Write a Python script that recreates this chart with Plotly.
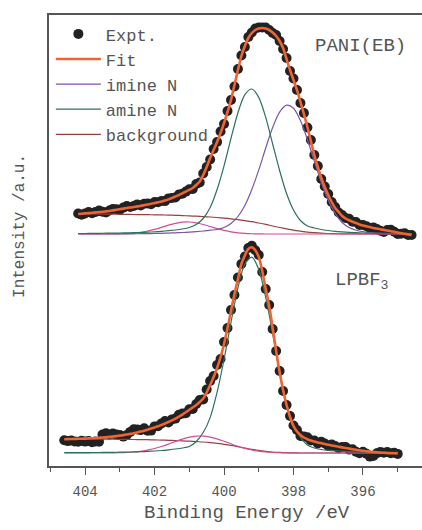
import plotly.graph_objects as go

# ---------------- data (binding energy in eV, intensity in a.u.) ----------------
E_up = [404.2, 404.1, 404.0, 403.9, 403.8, 403.7, 403.6, 403.5, 403.4, 403.3,
        403.2, 403.1, 403.0, 402.9, 402.8, 402.7, 402.6, 402.5, 402.4, 402.3,
        402.2, 402.1, 402.0, 401.9, 401.8, 401.7, 401.6, 401.5, 401.4, 401.3,
        401.2, 401.1, 401.0, 400.9, 400.8, 400.7, 400.6, 400.5, 400.4, 400.3,
        400.2, 400.1, 400.0, 399.9, 399.8, 399.7, 399.6, 399.5, 399.4, 399.3,
        399.2, 399.1, 399.0, 398.9, 398.8, 398.7, 398.6, 398.5, 398.4, 398.3,
        398.2, 398.1, 398.0, 397.9, 397.8, 397.7, 397.6, 397.5, 397.4, 397.3,
        397.2, 397.1, 397.0, 396.9, 396.8, 396.7, 396.6, 396.5, 396.4, 396.3,
        396.2, 396.1, 396.0, 395.9, 395.8, 395.7, 395.6, 395.5, 395.4, 395.3,
        395.2, 395.1, 395.0, 394.9, 394.8, 394.7, 394.6]

expt_up = [252.5, 251.3, 252.6, 253.9, 252.7, 254.1, 255.4, 254.2, 253.6, 255.5,
           257.1, 256.7, 256.3, 258.4, 260.0, 259.0, 260.0, 261.6, 260.6, 262.3,
           262.5, 261.7, 263.9, 263.7, 265.0, 264.9, 267.6, 268.0, 268.5, 271.5,
           272.2, 274.4, 276.7, 277.0, 282.0, 283.5, 292.5, 299.0, 306.5, 317.0,
           324.0, 334.5, 342.0, 355.0, 366.0, 379.5, 397.0, 410.5, 419.0, 429.0,
           433.5, 437.5, 438.5, 438.5, 438.5, 436.0, 433.0, 431.0, 425.0, 417.0,
           408.0, 395.0, 387.5, 376.0, 363.0, 353.0, 338.5, 326.0, 311.0, 300.0,
           287.0, 279.5, 272.0, 264.0, 259.0, 253.5, 251.0, 248.0, 247.2, 244.2,
           244.0, 241.0, 241.0, 239.7, 237.9, 238.6, 236.9, 235.2, 234.1, 236.0,
           236.3, 234.2, 232.0, 232.3, 232.7, 231.1, 231.0]

fit_up = [252.0, 252.3, 252.6, 252.9, 253.2, 253.6, 253.9, 254.2, 254.6, 255.0,
          255.6, 256.2, 256.8, 257.4, 258.0, 258.5, 259.0, 259.6, 260.1, 260.8,
          261.5, 262.2, 262.9, 263.7, 264.5, 265.4, 266.6, 268.0, 269.5, 271.0,
          272.7, 274.4, 276.2, 278.0, 281.0, 284.5, 291.0, 299.0, 308.0, 316.0,
          324.0, 333.0, 343.0, 354.0, 366.0, 381.0, 396.0, 410.0, 420.0, 428.0,
          433.0, 436.0, 437.5, 438.0, 437.5, 436.0, 433.5, 430.0, 425.0, 418.0,
          407.0, 396.0, 386.0, 376.0, 364.0, 352.0, 339.0, 325.0, 311.0, 299.0,
          288.0, 279.0, 271.0, 264.0, 258.0, 254.0, 250.0, 247.5, 245.7, 244.2,
          243.0, 241.5, 240.5, 239.7, 238.9, 238.1, 237.4, 236.7, 236.1, 235.5,
          234.8, 234.2, 233.5, 232.8, 232.2, 231.6, 231.0]

Ec_up = [404.2, 404.0, 403.8, 403.6, 403.4, 403.2, 403.0, 402.8, 402.6, 402.4,
         402.2, 402.0, 401.8, 401.6, 401.4, 401.2, 401.0, 400.8, 400.6, 400.4,
         400.2, 400.0, 399.8, 399.6, 399.4, 399.2, 399.0, 398.8, 398.6, 398.4,
         398.2, 398.0, 397.8, 397.6, 397.4, 397.2, 397.0, 396.8, 396.6, 396.4,
         396.2, 396.0, 395.8, 395.6, 395.4, 395.2, 395.0, 394.8, 394.6]

amine_up = [232.5, 232.5, 232.6, 232.7, 232.8, 232.9, 233.0, 233.1, 233.3, 233.5,
            233.8, 234.2, 234.7, 235.3, 236.0, 237.0, 238.5, 241.5, 247.5, 258.5,
            276.5, 300.2, 327.6, 353.3, 371.3, 377.0, 368.6, 348.6, 322.0, 295.5,
            272.5, 256.0, 245.5, 240.0, 238.0, 236.5, 235.5, 234.7, 234.1, 233.6,
            233.3, 233.0, 232.8, 232.6, 232.5, 232.4, 232.3, 232.2, 232.2]

imine_up = [232.0, 232.0, 232.0, 232.0, 232.0, 232.0, 232.1, 232.1, 232.2, 232.3,
            232.4, 232.5, 232.7, 232.9, 233.2, 233.5, 233.9, 234.4, 235.0, 235.8,
            236.5, 238.5, 242.5, 249.5, 260.5, 276.5, 296.1, 318.0, 338.5, 353.8,
            360.8, 357.8, 345.4, 326.5, 304.7, 283.7, 266.0, 252.6, 243.5, 238.5,
            235.8, 234.3, 233.5, 233.0, 232.7, 232.5, 232.4, 232.3, 232.2]

minor_up = [232.0, 232.0, 232.0, 232.0, 232.0, 232.0, 232.2, 232.45, 232.95, 233.7,
            235.0, 236.6, 238.6, 240.8, 242.6, 243.8, 244.0, 243.1, 241.5, 239.5,
            237.3, 235.6, 234.2, 233.2, 232.6, 232.25, 232.1, 232.0, 232.0, 232.0,
            232.0, 232.0, 232.0, 232.0, 232.0, 232.0, 232.0, 232.0, 232.0, 232.0,
            232.0, 232.0, 232.0, 232.0, 232.0, 232.0, 232.0, 232.0, 232.0]

bkg_up = [252.2, 252.2, 252.1, 252.0, 251.9, 251.8, 251.7, 251.6, 251.5, 251.4,
          251.3, 251.2, 251.1, 250.9, 250.7, 250.4, 250.1, 249.8, 249.4, 249.0,
          248.5, 247.9, 247.2, 246.4, 245.4, 244.3, 243.0, 241.6, 240.0, 238.5,
          237.1, 235.8, 234.8, 233.9, 233.3, 232.8, 232.5, 232.3, 232.2, 232.1,
          232.1, 232.0, 232.0, 232.0, 232.0, 232.0, 232.0, 232.0, 232.0]

E_lo = [404.6, 404.5, 404.4, 404.3, 404.2, 404.1, 404.0, 403.9, 403.8, 403.7,
        403.6, 403.5, 403.4, 403.3, 403.2, 403.1, 403.0, 402.9, 402.8, 402.7,
        402.6, 402.5, 402.4, 402.3, 402.2, 402.1, 402.0, 401.9, 401.8, 401.7,
        401.6, 401.5, 401.4, 401.3, 401.2, 401.1, 401.0, 400.9, 400.8, 400.7,
        400.6, 400.5, 400.4, 400.3, 400.2, 400.1, 400.0, 399.9, 399.8, 399.7,
        399.6, 399.5, 399.4, 399.3, 399.2, 399.1, 399.0, 398.9, 398.8, 398.7,
        398.6, 398.5, 398.4, 398.3, 398.2, 398.1, 398.0, 397.9, 397.8, 397.7,
        397.6, 397.5, 397.4, 397.3, 397.2, 397.1, 397.0, 396.9, 396.8, 396.7,
        396.6, 396.5, 396.4, 396.3, 396.2, 396.1, 396.0, 395.9, 395.8, 395.7,
        395.6, 395.5, 395.4, 395.3, 395.2, 395.1, 395.0]

expt_lo = [25.8, 24.9, 25.5, 24.6, 24.2, 25.3, 24.4, 25.1, 23.8, 24.5,
           24.2, 31.5, 32.8, 31.6, 32.5, 31.4, 30.9, 29.4, 31.0, 34.1,
           36.8, 36.6, 35.9, 37.8, 35.3, 35.4, 39.6, 39.8, 42.6, 45.0,
           43.5, 46.6, 47.4, 51.3, 52.4, 52.7, 56.7, 57.1, 62.0, 66.0,
           66.5, 76.5, 85.0, 90.0, 101.0, 107.0, 124.0, 138.0, 156.0, 171.0,
           188.5, 202.0, 209.5, 218.0, 220.2, 215.8, 211.0, 194.0, 177.0, 161.0,
           137.0, 115.0, 95.0, 75.0, 61.0, 50.0, 40.5, 36.0, 30.0, 29.5,
           28.8, 25.5, 25.5, 22.6, 24.3, 22.5, 20.3, 21.6, 19.9, 17.7,
           19.1, 19.0, 16.4, 16.8, 14.2, 12.7, 14.2, 12.3, 9.4, 10.0,
           12.7, 13.9, 13.2, 14.0, 12.8, 13.2, 12.1]

fit_lo = [26.8, 26.9, 27.0, 27.1, 27.2, 27.3, 27.4, 27.6, 27.8, 28.0,
          28.2, 28.5, 28.8, 29.1, 29.5, 29.9, 30.4, 30.9, 31.5, 32.1,
          32.8, 33.6, 34.4, 35.3, 36.3, 37.4, 38.6, 39.8, 41.1, 42.5,
          44.0, 45.6, 47.4, 49.3, 51.4, 53.7, 56.2, 58.6, 61.0, 64.0,
          67.5, 73.5, 81.0, 89.0, 98.0, 109.0, 122.0, 138.0, 155.0, 172.0,
          187.0, 202.0, 210.5, 217.0, 218.7, 215.8, 209.0, 195.0, 177.0, 160.0,
          138.0, 115.0, 94.0, 76.0, 61.0, 49.0, 40.0, 34.5, 31.0, 28.5,
          26.8, 25.5, 24.5, 23.6, 22.8, 22.0, 21.3, 20.6, 19.9, 19.2,
          18.6, 18.0, 17.4, 16.8, 16.2, 15.7, 15.2, 14.8, 14.4, 14.0,
          13.7, 13.4, 13.2, 13.0, 12.8, 12.7, 12.6]

Ec_lo = [404.6, 404.4, 404.2, 404.0, 403.8, 403.6, 403.4, 403.2, 403.0, 402.8,
         402.6, 402.4, 402.2, 402.0, 401.8, 401.6, 401.4, 401.2, 401.0, 400.8,
         400.6, 400.4, 400.2, 400.0, 399.8, 399.6, 399.4, 399.2, 399.0, 398.8,
         398.6, 398.4, 398.2, 398.0, 397.8, 397.6, 397.4, 397.2, 397.0, 396.8,
         396.6, 396.4, 396.2, 396.0, 395.8, 395.6, 395.4, 395.2, 395.0]

amine_lo = [13.3, 13.3, 13.4, 13.4, 13.5, 13.5, 13.6, 13.7, 13.8, 13.9,
            14.1, 14.3, 14.6, 15.0, 15.5, 16.2, 17.0, 18.0, 19.5, 24.5,
            33.5, 48.4, 73.8, 106.5, 143.7, 178.2, 202.0, 208.8, 196.5, 168.6,
            132.5, 93.5, 62.0, 40.5, 28.8, 21.0, 18.0, 16.5, 15.7, 15.2,
            14.8, 14.5, 14.2, 14.0, 13.9, 13.8, 13.7, 13.6, 13.6]

minor_lo = [13.0, 13.0, 13.0, 13.0, 13.0, 13.05, 13.1, 13.15, 13.25, 13.5,
            14.0, 14.7, 15.9, 17.5, 19.5, 21.9, 24.5, 26.9, 28.8, 29.8,
            29.9, 28.9, 27.1, 24.7, 22.2, 19.7, 17.6, 16.0, 14.8, 14.0,
            13.5, 13.25, 13.1, 13.05, 13.0, 13.0, 13.0, 13.0, 13.0, 13.0,
            13.0, 13.0, 13.0, 13.0, 13.0, 13.0, 13.0, 13.0, 13.0]

bkg_lo = [27.0, 27.0, 27.0, 27.0, 27.0, 26.9, 26.9, 26.8, 26.7, 26.6,
          26.5, 26.4, 26.3, 26.1, 25.9, 25.7, 25.4, 25.1, 24.8, 24.4,
          24.0, 23.4, 22.6, 21.7, 20.6, 19.3, 18.0, 16.7, 15.6, 14.7,
          14.0, 13.6, 13.3, 13.1, 13.0, 13.0, 13.0, 13.0, 13.0, 13.0,
          13.0, 13.0, 13.0, 13.0, 13.0, 13.0, 13.0, 13.0, 13.0]

x_ticks = [404, 402, 400, 398, 396]
labels = {"expt": "Expt.", "fit": "Fit", "imine": "imine N", "amine": "amine N",
          "bkg": "background", "minor": "N+"}

# ---------------- styling ----------------
FONT = "Liberation Mono, Courier New, monospace"
GREY = "#555555"
DOT = "#222222"
C_FIT = "#ef6432"
C_IMINE = "#7d55a6"
C_AMINE = "#2c7256"
C_BKG = "#9c3f40"
C_MINOR = "#d44d93"

fig = go.Figure()


def points(x, y, show):
    fig.add_trace(go.Scatter(x=x, y=y, mode="markers", name=labels["expt"],
                             showlegend=show, legendrank=1,
                             marker=dict(size=10, color=DOT)))


def curve(x, y, color, key, show, rank, width=1.2):
    fig.add_trace(go.Scatter(x=x, y=y, mode="lines", name=labels[key],
                             showlegend=show, legendrank=rank,
                             line=dict(color=color, width=width, shape="spline", smoothing=0.8)))


# experimental points
points(E_up, expt_up, True)
points(E_lo, expt_lo, False)
# upper spectrum components
curve(Ec_up, bkg_up, C_BKG, "bkg", True, 5)
curve(Ec_up, minor_up, C_MINOR, "minor", False, 6)
curve(Ec_up, imine_up, C_IMINE, "imine", True, 3)
curve(Ec_up, amine_up, C_AMINE, "amine", True, 4)
# lower spectrum components
curve(Ec_lo, bkg_lo, C_BKG, "bkg", False, 5)
curve(Ec_lo, minor_lo, C_MINOR, "minor", False, 6)
curve(Ec_lo, amine_lo, C_AMINE, "amine", False, 4)
# fits
curve(E_up, fit_up, C_FIT, "fit", True, 2, width=2.6)
curve(E_lo, fit_lo, C_FIT, "fit", False, 2, width=2.6)

fig.update_layout(
    width=422, height=530,
    margin=dict(l=49, r=0, t=15, b=64),
    paper_bgcolor="white", plot_bgcolor="white",
    font=dict(family=FONT, color=GREY),
    showlegend=True,
    legend=dict(x=0.005, y=0.997, xanchor="left", yanchor="top", traceorder="normal",
                bgcolor="rgba(0,0,0,0)", font=dict(size=17, color=GREY, family=FONT),
                itemwidth=45),
    xaxis=dict(range=[405.04, 394.30], showline=True, linecolor=GREY, linewidth=1.5, mirror=True,
               ticks="outside", ticklen=7, tickwidth=1.2, tickcolor=GREY,
               tickvals=x_ticks, tickfont=dict(size=14, color=GREY, family=FONT),
               ticklabelstandoff=4,
               minor=dict(dtick=1, tick0=0, ticks="outside", ticklen=4, tickwidth=1.2,
                          tickcolor=GREY, showgrid=False),
               showgrid=False, zeroline=False),
    yaxis=dict(range=[0, 451], showline=True, linecolor=GREY, linewidth=1.5,
               showticklabels=False, ticks="", showgrid=False, zeroline=False),
    annotations=[
        dict(text="PANI(EB)", x=0.836, y=0.931, xref="paper", yref="paper", showarrow=False,
             xanchor="center", yanchor="middle", font=dict(size=19, color=GREY, family=FONT)),
        dict(text="LPBF<sub>3</sub>", x=0.84, y=0.41, xref="paper", yref="paper", showarrow=False,
             xanchor="center", yanchor="middle", font=dict(size=19, color=GREY, family=FONT)),
        dict(text="Binding Energy /eV", x=0.531, y=-0.104, xref="paper", yref="paper", showarrow=False,
             xanchor="center", yanchor="middle", font=dict(size=19, color=GREY, family=FONT)),
        dict(text="Intensity /a.u.", x=-0.078, y=0.532, xref="paper", yref="paper", showarrow=False,
             xanchor="center", yanchor="middle", textangle=-90,
             font=dict(size=16, color=GREY, family=FONT)),
    ],
)

fig.write_html("out.html")
